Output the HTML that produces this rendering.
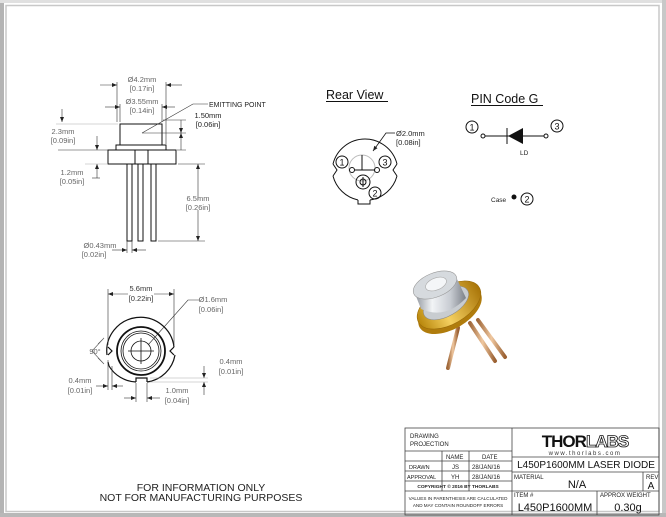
<!DOCTYPE html>
<html><head><meta charset="utf-8"><style>
html,body{margin:0;padding:0;background:#fff;}
svg{display:block;}
text{font-family:"Liberation Sans",sans-serif;}
</style></head><body>
<svg width="666" height="517" viewBox="0 0 666 517" xmlns="http://www.w3.org/2000/svg">
<defs>
<marker id="a" markerWidth="6" markerHeight="6" refX="5" refY="3" orient="auto" markerUnits="userSpaceOnUse"><path d="M0,1 L5,3 L0,5 z" fill="#222"/></marker>
<linearGradient id="cap" x1="0" x2="1"><stop offset="0" stop-color="#8a9098"/><stop offset=".35" stop-color="#f2f4f6"/><stop offset=".7" stop-color="#c8ccd2"/><stop offset="1" stop-color="#7b8088"/></linearGradient>
<linearGradient id="gold" x1="0" x2="1"><stop offset="0" stop-color="#b8860b"/><stop offset=".4" stop-color="#f5d060"/><stop offset="1" stop-color="#a87408"/></linearGradient>
<linearGradient id="pin" x1="0" x2="1"><stop offset="0" stop-color="#a0683a"/><stop offset=".5" stop-color="#f0c8a0"/><stop offset="1" stop-color="#9a6032"/></linearGradient>
</defs>
<rect x="0" y="0" width="666" height="517" fill="#fff"/>
<rect x="0" y="0" width="4" height="517" fill="#b4b4b4"/>
<rect x="0" y="0" width="666" height="3" fill="#e0e0e0"/>
<rect x="662" y="0" width="4" height="517" fill="#c8c8c8"/>
<rect x="0" y="513" width="666" height="4" fill="#b8b8b8"/>
<rect x="6" y="5.5" width="653" height="506" fill="none" stroke="#c8c8c8" stroke-width="1.5"/>

<g stroke="#111" stroke-width="1" fill="none">
<path d="M120,124 L162,124 L162,145 L120,145 Z"/>
<path d="M116,145 L166,145 L166,150 L116,150 Z"/>
<path d="M108,150 L176,150 L176,164 L108,164 Z"/>
<path d="M135,150 L135,164 M148,150 L148,164"/>
<rect x="127" y="164" width="5" height="77"/>
<rect x="138" y="164" width="5" height="77"/>
<rect x="151" y="164" width="5" height="77"/>
</g>
<g stroke="#333" stroke-width=".6" fill="none">
<path d="M117,82 L117,122 M166,82 L166,144"/>
<path d="M100,85 L117,85" marker-end="url(#a)"/><path d="M182,85 L166,85" marker-end="url(#a)"/>
<path d="M120,104 L120,122 M162,104 L162,122"/>
<path d="M105,107 L120,107" marker-end="url(#a)"/><path d="M175,107 L162,107" marker-end="url(#a)"/>
<path d="M142,133 L193,104 L208,104"/>
<path d="M163,120 L186,120 M142,133 L186,133 M177,150 L186,150"/>
<path d="M181,120 L181,133" marker-end="url(#a)"/><path d="M181,150 L181,133" marker-end="url(#a)"/>
<path d="M62,109 L62,122" marker-end="url(#a)"/><path d="M56,124 L118,124" stroke="#aaa"/>
<path d="M58,150 L108,150"/><path d="M97,136 L97,150" marker-end="url(#a)"/>
<path d="M97,178 L97,164" marker-end="url(#a)"/><path d="M85,164 L108,164" stroke="#aaa"/><path d="M92,178 L100,178"/>
<path d="M178,164 L205,164 M158,241 L205,241"/>
<path d="M198,200 L198,164" marker-end="url(#a)"/><path d="M198,210 L198,241" marker-end="url(#a)"/>
<path d="M112,250 L127,250" marker-end="url(#a)"/><path d="M146,250 L132,250" marker-end="url(#a)"/>
<path d="M127,241 L127,253 M132,241 L132,253"/>
</g>
<g font-size="7.5" fill="#666" text-anchor="middle">
<text x="142" y="82">Ø4.2mm</text><text x="142" y="91">[0.17in]</text>
<text x="142" y="104">Ø3.55mm</text><text x="142" y="113">[0.14in]</text>
<text x="63" y="134">2.3mm</text><text x="63" y="143">[0.09in]</text>
<text x="72" y="175">1.2mm</text><text x="72" y="184">[0.05in]</text>
<text x="198" y="201">6.5mm</text><text x="198" y="210">[0.26in]</text>
<text x="100" y="248">Ø0.43mm</text><text x="94" y="257">[0.02in]</text>
</g>
<text x="209" y="107" font-size="7" fill="#222">EMITTING POINT</text>
<text x="208" y="118" font-size="7.5" fill="#222" text-anchor="middle">1.50mm</text>
<text x="208" y="127" font-size="7.5" fill="#222" text-anchor="middle">[0.06in]</text>

<g stroke="#111" stroke-width="1.2" fill="none">
<path d="M136,382 A33,33 0 0 1 109,366 M109,366 L108,362 M107,355 A33,33 0 0 1 174,347 M175,355 A33,33 0 0 1 147,382"/>
<path d="M108,347 L112,351 L108,355 M174,347 L170,351 L174,355"/>
<path d="M136,382 L136,378 L147,378 L147,382"/>
<circle cx="141" cy="351" r="24" stroke-width="1.8"/>
<circle cx="141" cy="351" r="20" stroke-width=".8"/>
<circle cx="141" cy="351" r="18" stroke-width=".8"/>
<circle cx="141" cy="351" r="10" stroke-width=".8"/>
<path d="M128,351 L154,351 M141,338 L141,364" stroke-width=".8"/>
</g>
<g stroke="#333" stroke-width=".6" fill="none">
<path d="M108,289 L108,345 M174,289 L174,345"/>
<path d="M128,294 L108,294" marker-end="url(#a)"/><path d="M154,294 L174,294" marker-end="url(#a)"/>
<path d="M200,300 L188,300 L148,345"/>
<path d="M104,338 L92,351 L104,364 M104,338 L98,344 M104,364 L98,358" stroke="#555"/>
<path d="M96,386 L108,386" marker-end="url(#a)"/><path d="M123,386 L112,386" marker-end="url(#a)"/>
<path d="M108,360 L108,390 M112,366 L112,390"/>
<path d="M124,398 L136,398" marker-end="url(#a)"/><path d="M160,398 L147,398" marker-end="url(#a)"/>
<path d="M136,383 L136,402 M147,383 L147,402"/>
<path d="M204,366 L204,378" marker-end="url(#a)"/><path d="M204,395 L204,382" marker-end="url(#a)"/>
<path d="M150,378 L208,378 M150,382 L208,382" stroke="#aaa"/>
</g>
<g font-size="7.5" fill="#666" text-anchor="middle">
<text x="141" y="291" fill="#333">5.6mm</text><text x="141" y="301" fill="#333">[0.22in]</text>
<text x="213" y="302">Ø1.6mm</text><text x="211" y="312">[0.06in]</text>
<text x="95" y="354">90°</text>
<text x="80" y="383">0.4mm</text><text x="80" y="393">[0.01in]</text>
<text x="231" y="364">0.4mm</text><text x="231" y="374">[0.01in]</text>
<text x="177" y="393">1.0mm</text><text x="177" y="403">[0.04in]</text>
</g>

<text x="326" y="99" font-size="12.5" fill="#111">Rear View</text>
<path d="M326,101.5 L388,101.5" stroke="#111" stroke-width="1"/>
<g stroke="#111" stroke-width="1" fill="none">
<path d="M333,164 A33,33 0 0 1 397,164 M397,176 A33,33 0 0 1 370,200 M358,200 A33,33 0 0 1 333,176"/>
<path d="M333,164 L337,170 L333,176 M397,164 L393,170 L397,176"/>
<path d="M358,200 L358,204 L370,204 L370,200"/>
<circle cx="362" cy="168" r="13" stroke="#bbb"/>
<circle cx="342" cy="162" r="6"/><circle cx="385" cy="162" r="6"/><circle cx="375" cy="193" r="6"/>
<circle cx="352" cy="170" r="2.5"/><circle cx="377" cy="170" r="2.5"/>
<path d="M354.5,170 L374.5,170 M362,155 L362,170"/>
<circle cx="363" cy="182" r="7"/><circle cx="363" cy="182" r="3"/>
<path d="M363,177 L363,187"/>
<path d="M395,133 L386,133 L373,151" stroke-width=".8" marker-end="url(#a)"/>
</g>
<g font-size="9" fill="#111" text-anchor="middle">
<text x="342" y="165.5">1</text><text x="385" y="165.5">3</text><text x="375" y="196.5">2</text>
</g>
<text x="396" y="136" font-size="7.5" fill="#222">Ø2.0mm</text>
<text x="396" y="145" font-size="7.5" fill="#222">[0.08in]</text>

<text x="471" y="103" font-size="12.5" fill="#111">PIN Code G</text>
<path d="M471,105.5 L543,105.5" stroke="#111" stroke-width="1"/>
<g stroke="#111" stroke-width="1" fill="none">
<circle cx="472" cy="127" r="6"/><circle cx="557" cy="126" r="6"/><circle cx="527" cy="199" r="6"/>
<circle cx="483" cy="136" r="2"/><circle cx="546" cy="136" r="2"/>
<path d="M485,136 L544,136 M507,128 L507,144"/>
</g>
<path d="M508,136 L523,128 L523,144 Z" fill="#111"/>
<circle cx="514" cy="197" r="2.5" fill="#111"/>
<g font-size="9" fill="#111" text-anchor="middle">
<text x="472" y="130.5">1</text><text x="557" y="129.5">3</text><text x="527" y="202.5">2</text>
</g>
<text x="520" y="155" font-size="6.5" fill="#222">LD</text>
<text x="491" y="202" font-size="6.5" fill="#222">Case</text>

<!-- photo -->
<g>
<path d="M478,320 L505,357" stroke="url(#pin)" stroke-width="4" stroke-linecap="round"/>
<path d="M470,323 L495,361" stroke="url(#pin)" stroke-width="4" stroke-linecap="round"/>
<path d="M458,328 L448,368" stroke="url(#pin)" stroke-width="4" stroke-linecap="round"/>
<ellipse cx="450" cy="310" rx="35" ry="19" transform="rotate(-30 450 310)" fill="#b07c0c"/>
<ellipse cx="449" cy="305" rx="35" ry="19" transform="rotate(-30 449 305)" fill="url(#gold)" stroke="#9a6a08" stroke-width=".6"/>
<ellipse cx="446" cy="303" rx="25" ry="13" transform="rotate(-30 446 303)" fill="#c8ccd0" stroke="#888" stroke-width=".5"/>
<path d="M414,291 L421,309 Q445,320 466,298 L457,279 Z" fill="url(#cap)"/>
<ellipse cx="435" cy="285" rx="23" ry="12" transform="rotate(-22 435 285)" fill="#d6dade" stroke="#999" stroke-width=".6"/>
<ellipse cx="436" cy="284" rx="11" ry="6" transform="rotate(-22 436 284)" fill="#f4f6f8" stroke="#aaa" stroke-width=".6"/>
</g>

<g font-size="10.5" fill="#222" text-anchor="middle">
<text x="201" y="491">FOR INFORMATION ONLY</text>
<text x="201" y="501">NOT FOR MANUFACTURING PURPOSES</text>
</g>

<g stroke="#444" stroke-width=".8" fill="none">
<rect x="405" y="428" width="254" height="87"/>
<path d="M512,428 L512,515 M405,451 L512,451 M405,461 L512,461 M405,471 L512,471 M405,481 L512,481 M405,491 L512,491"/>
<path d="M442,451 L442,491 M469,451 L469,491"/>
<path d="M512,457 L659,457 M512,472 L659,472 M512,491 L659,491 M643,472 L643,491 M597,491 L597,515"/>
</g>
<g fill="#222" font-size="6">
<text x="410" y="438">DRAWING</text><text x="410" y="446">PROJECTION</text>
<text x="446" y="459">NAME</text><text x="482" y="459">DATE</text>
<text x="409" y="469" font-size="5.5">DRAWN</text><text x="452" y="469">JS</text><text x="472" y="469">28/JAN/16</text>
<text x="407" y="479" font-size="5.5">APPROVAL</text><text x="451" y="479">YH</text><text x="472" y="479">28/JAN/16</text>
<text x="458" y="488" font-size="4.8" text-anchor="middle" font-weight="bold">COPYRIGHT © 2016 BY THORLABS</text>
<text x="458" y="500" font-size="4.6" text-anchor="middle">VALUES IN PARENTHESIS ARE CALCULATED</text>
<text x="458" y="507" font-size="4.6" text-anchor="middle">AND MAY CONTAIN ROUNDOFF ERRORS</text>
<text x="514" y="479">MATERIAL</text><text x="646" y="479">REV</text>
<text x="514" y="497">ITEM #</text><text x="600" y="497">APPROX WEIGHT</text>
</g>
<text x="585" y="447" font-size="17" font-weight="bold" fill="#111" text-anchor="middle" letter-spacing="-1">THOR<tspan fill="#fff" stroke="#111" stroke-width=".8">LABS</tspan></text>
<text x="585" y="455" font-size="6" fill="#333" text-anchor="middle" letter-spacing="1.5">www.thorlabs.com</text>
<g fill="#111" text-anchor="middle">
<text x="586" y="468" font-size="10">L450P1600MM LASER DIODE</text>
<text x="577" y="488" font-size="11">N/A</text>
<text x="651" y="489" font-size="10">A</text>
<text x="555" y="511" font-size="11">L450P1600MM</text>
<text x="628" y="511" font-size="11">0.30g</text>
</g>
</svg>
</body></html>
